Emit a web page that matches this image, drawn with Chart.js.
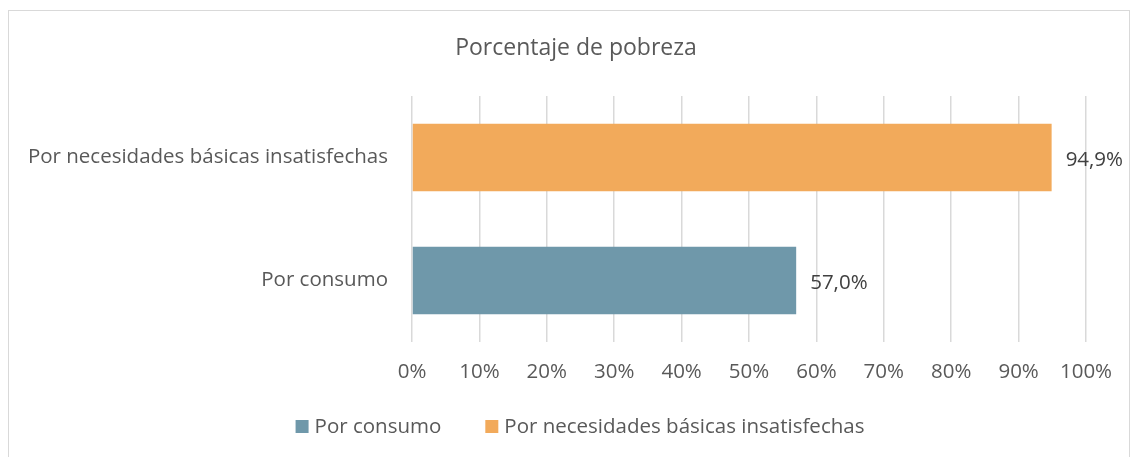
<!DOCTYPE html>
<html><head><meta charset="utf-8">
<script src="https://cdn.jsdelivr.net/npm/chart.js@4.4.1/dist/chart.umd.min.js"></script>
<style>
html,body{margin:0;padding:0;background:#fff;}
#wrap{position:relative;width:1132px;height:457px;overflow:hidden;}
#frame{position:absolute;left:8px;top:10px;width:1122px;height:470px;border:1.5px solid #d9d9d9;box-sizing:border-box;}
canvas{position:absolute;left:0;top:0;}
</style></head><body>
<div id="wrap"><div id="frame"></div><canvas id="c" width="1132" height="457"></canvas></div>
<script>
const chartTitle = "Porcentaje de pobreza";
const categories = ["Por necesidades básicas insatisfechas", "Por consumo"];
const seriesNames = ["Por consumo", "Por necesidades básicas insatisfechas"];
const seriesColors = ["#6F98AA", "#F2AA5B"];
const consumoValues = [null, 57.0];
const nbiValues = [94.9, null];
const tickLabels = ["0%","10%","20%","30%","40%","50%","60%","70%","80%","90%","100%"];

const FONT = "'Open Sans'";
const TXT = "#595959";
const FS = 20.5;

const dataLabels = {
  id: "dataLabels",
  afterDatasetsDraw(chart) {
    const ctx = chart.ctx;
    ctx.save();
    ctx.font = FS + "px " + FONT;
    ctx.fillStyle = "#404040";
    ctx.textAlign = "left";
    ctx.textBaseline = "middle";
    chart.data.datasets.forEach((ds, di) => {
      const meta = chart.getDatasetMeta(di);
      meta.data.forEach((el, i) => {
        const v = ds.data[i];
        if (v === null || v === undefined) return;
        ctx.fillText(v.toFixed(1).replace(".", ",") + "%", el.x + 14, el.y + 3);
      });
    });
    ctx.restore();
  }
};

const customTitle = {
  id: "customTitle",
  afterDraw(chart) {
    const ctx = chart.ctx;
    ctx.save();
    ctx.font = "23px " + FONT;
    ctx.fillStyle = TXT;
    ctx.textAlign = "center";
    ctx.textBaseline = "middle";
    ctx.fillText(chartTitle, 576, 48);
    ctx.restore();
  }
};

const customLegend = {
  id: "customLegend",
  afterDraw(chart) {
    const ctx = chart.ctx;
    ctx.save();
    ctx.font = FS + "px " + FONT;
    ctx.textBaseline = "middle";
    ctx.textAlign = "left";
    const box = 13, gapText = 6, gapItem = 44;
    const items = chart.data.datasets.map(d => ({ text: d.label, color: d.backgroundColor, w: ctx.measureText(d.label).width }));
    let total = 0;
    items.forEach((it, i) => { total += box + gapText + it.w + (i < items.length - 1 ? gapItem : 0); });
    let x = 580 - total / 2;
    const y = 426.5;
    items.forEach(it => {
      ctx.fillStyle = it.color;
      ctx.fillRect(x, y - box / 2, box, box);
      x += box + gapText;
      ctx.fillStyle = TXT;
      ctx.fillText(it.text, x, y + 1);
      x += it.w + gapItem;
    });
    ctx.restore();
  }
};

new Chart(document.getElementById("c"), {
  type: "bar",
  data: {
    labels: categories,
    datasets: [
      { label: seriesNames[0], data: consumoValues, backgroundColor: seriesColors[0], categoryPercentage: 1, barPercentage: 0.55 },
      { label: seriesNames[1], data: nbiValues, backgroundColor: seriesColors[1], categoryPercentage: 1, barPercentage: 0.55 }
    ]
  },
  plugins: [dataLabels, customTitle, customLegend],
  options: {
    responsive: false,
    animation: false,
    devicePixelRatio: 1,
    indexAxis: "y",
    skipNull: true,
    layout: { padding: { top: 96, left: 0, right: 46, bottom: 70 } },
    scales: {
      x: {
        min: 0, max: 100,
        ticks: { stepSize: 10, color: TXT, font: { family: FONT, size: FS }, padding: 18,
          callback: (v, i) => tickLabels[i] },
        grid: { color: "#d9d9d9", lineWidth: 1.5, drawTicks: false },
        border: { display: false },
        afterFit: (s) => { s.height = 45; }
      },
      y: {
        ticks: { color: TXT, font: { family: FONT, size: FS }, padding: 24 },
        grid: { display: false, drawTicks: false },
        border: { display: false },
        afterFit: (s) => { s.width = 412; }
      }
    },
    plugins: {
      title: { display: false },
      legend: { display: false },
      tooltip: { enabled: false }
    }
  }
});
</script>
</body></html>
